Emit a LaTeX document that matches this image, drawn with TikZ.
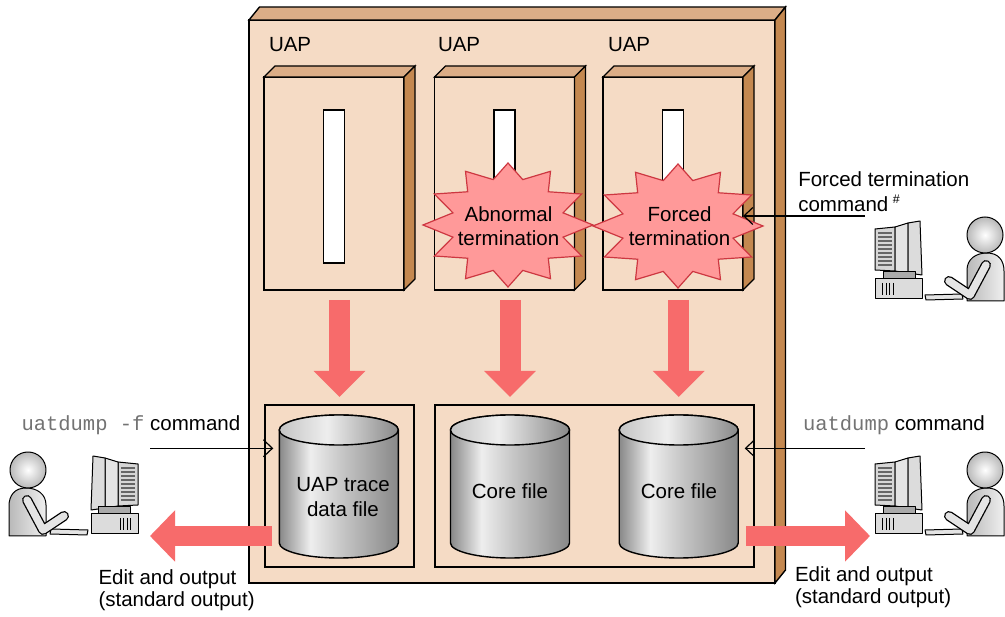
\documentclass[tikz,border=0pt]{standalone}
\usepackage{fontspec}
\setmainfont{Liberation Sans}
\setmonofont{Liberation Mono}
\usetikzlibrary{arrows.meta,calc}

\definecolor{boxfront}{RGB}{245,219,197}
\definecolor{boxtop}{RGB}{219,173,135}
\definecolor{boxside}{RGB}{196,136,80}
\definecolor{flow}{RGB}{247,107,107}
\definecolor{burstfill}{RGB}{255,153,153}
\definecolor{burstline}{RGB}{205,55,65}
\definecolor{drumA}{RGB}{136,136,136}
\definecolor{drumB}{RGB}{238,238,238}
\definecolor{drumC}{RGB}{196,196,196}
\definecolor{monogray}{RGB}{115,115,115}
\definecolor{pcA}{RGB}{214,214,214}
\definecolor{pcB}{RGB}{228,228,228}
\definecolor{pcC}{RGB}{220,220,220}
\definecolor{pcD}{RGB}{170,170,170}

\pgfdeclarehorizontalshading{drumbody}{100bp}{color(0bp)=(drumA); color(25bp)=(drumA); color(38bp)=(drumB); color(52bp)=(drumC); color(75bp)=(drumA); color(100bp)=(drumA)}
\pgfdeclarehorizontalshading{drumlid}{100bp}{color(0bp)=(drumC); color(25bp)=(drumC); color(45bp)=(drumB); color(75bp)=(drumA); color(100bp)=(drumA)}

% a 3-D slab: top and right faces added to a rectangular node
\newcommand\slabfaces[3]{%
  \filldraw[facetop] (#1.north west) -- ++(#2,-#3) -- ($(#1.north east)+(#2,-#3)$) -- (#1.north east) -- cycle;
  \filldraw[faceside] (#1.north east) -- ++(#2,-#3) -- ($(#1.south east)+(#2,-#3)$) -- (#1.south east) -- cycle;
}

% a shaded disk drum around a box node (node spans lid centre to base centre)
\newcommand\drumshape[1]{%
  \shadedraw[shading=drumbody, line width=1.4pt]
    (#1.north west) -- (#1.south west)
    arc[start angle=180, end angle=360, x radius=59.5pt, y radius=15pt]
    -- (#1.north east)
    arc[start angle=0, end angle=180, x radius=59.5pt, y radius=15pt] -- cycle;
  \shade[shading=drumlid] (#1.north) ellipse [x radius=59.5pt, y radius=15pt];
  \draw[line width=1.4pt] (#1.north) ellipse [x radius=59.5pt, y radius=15pt];
}

% a twelve-point burst around a coordinate
\newcommand\burstshape[1]{%
  \foreach \k in {0,...,23}{%
    \pgfmathsetmacro\ra{mod(\k,2)==0 ? 85 : 57}%
    \pgfmathsetmacro\rb{mod(\k,2)==0 ? 62 : 47}%
    \coordinate (#1-\k) at ($(#1)+({\k*15}:\ra pt and \rb pt)$);
  }
  \filldraw[burst] (#1-0) \foreach \k in {1,...,23}{ -- (#1-\k)} -- cycle;
}

\tikzset{
  pics/deskuser/.style={code={
    % monitor rear with vent slats
    \filldraw[pcline, fill=pcA] (5,14) -- (25,12) -- (25,56) -- (5,55) -- cycle;
    \foreach \s in {18,22,...,50} \draw[slat] (8,\s) -- (22,\s);
    % monitor side
    \filldraw[pcline, fill=pcB] (25,12) -- (38,8) -- (38,58) -- (25,56) -- cycle;
    % monitor front
    \filldraw[pcline, fill=pcC] (38,8) -- (50,6) -- (52,60) -- (38,58) -- cycle;
    % stand
    \filldraw[pcline, fill=pcD] (13,57) rectangle (45,64);
    % system unit
    \filldraw[pcline, fill=pcC] (5,64) rectangle (52,84);
    \foreach \v in {12.5,16,19.5,23} \draw[pcline] (\v,68) -- (\v,80);
    % keyboard
    \filldraw[pcline, fill=pcB] (55,80) -- (92,79) -- (93,84) -- (56,85) -- cycle;
    % user: body, arm and head
    \shadedraw[pcline, left color=gray!55, right color=gray!12]
      (97,86) -- (97,55) .. controls (97,44) and (106,38) .. (117,38)
      .. controls (128,38) and (134,45) .. (134,56) -- (134,86) -- cycle;
    \draw[line width=10pt, line cap=round, line join=round, black] (116,50) -- (100,80) -- (79,66);
    \draw[line width=7.4pt, line cap=round, line join=round, pcB] (116,50) -- (100,80) -- (79,66);
    \shadedraw[pcline, inner color=white, outer color=gray!55] (115,20) circle[radius=18];
  }},
}

\begin{document}
\begin{tikzpicture}[x=1pt, y=-1pt,
  facetop/.style={fill=boxtop, draw=black, line width=1.4pt},
  faceside/.style={fill=boxside, draw=black, line width=1.4pt},
  hostbox/.style={draw, fill=boxfront, line width=1.6pt, inner sep=0pt, outer sep=0pt, anchor=north west},
  uapbox/.style={draw, fill=boxfront, line width=1.4pt, inner sep=0pt, outer sep=0pt, anchor=north west, minimum width=140pt, minimum height=213pt},
  slotbox/.style={draw, fill=white, line width=1.2pt, inner sep=0pt, outer sep=0pt, anchor=north, minimum width=21pt, minimum height=153pt},
  framebox/.style={draw, line width=1.5pt, inner sep=0pt, outer sep=0pt, anchor=north west, minimum height=162pt},
  drumbox/.style={inner sep=0pt, outer sep=0pt, minimum width=119pt, minimum height=113pt},
  burst/.style={fill=burstfill, draw=burstline, line width=1.2pt, line join=miter},
  txt/.style={font=\fontsize{20.5}{24.5}\selectfont, inner sep=0pt, outer sep=0pt},
  bigflow/.style={flow, line width=21pt, -{Triangle[width=50pt,length=26pt]}},
  sideflow/.style={flow, line width=20pt, -{Triangle[width=50pt,length=25pt]}},
  cmdarrow/.style={line width=1.2pt, -{Straight Barb[length=9pt,width=17pt,line width=1.2pt]}},
  pcline/.style={draw=black, line width=1pt, line join=round},
  slat/.style={draw=black!60, line width=1.6pt},
]
\fill[white] (0,0) rectangle (1005,617);
\useasboundingbox (0,0) rectangle (1005,617);

% host machine
\node[hostbox, minimum width=526pt, minimum height=563pt] (host) at (249,20) {};
\slabfaces{host}{10.5}{13}

% application boxes
\node[uapbox] (uap1) at (264,77) {};
\node[uapbox] (uap2) at (434.5,77) {};
\node[uapbox] (uap3) at (603,77) {};
\slabfaces{uap1}{11}{11}
\slabfaces{uap2}{11}{11}
\slabfaces{uap3}{11}{11}
\node[slotbox] (slot1) at ($(uap1.north)+(0,33)$) {};
\node[slotbox] (slot2) at ($(uap2.north)+(0,33)$) {};
\node[slotbox] (slot3) at ($(uap3.north)+(0,33)$) {};

\node[txt, anchor=base west] (uapname1) at (269,51.5) {UAP};
\node[txt, anchor=base west] (uapname2) at (438,51.5) {UAP};
\node[txt, anchor=base west] (uapname3) at (608,51.5) {UAP};

% termination bursts
\coordinate (abend) at (508,225);
\coordinate (kill) at (678,226);
\burstshape{abend}
\burstshape{kill}
\node[txt, align=center] (abendtxt) at (508.5,226) {Abnormal\\termination};
\node[txt, align=center] (killtxt) at (679.5,226) {Forced\\termination};

% output files
\node[framebox, minimum width=149pt] (fileA) at (265,405) {};
\node[framebox, minimum width=319pt] (fileB) at (435,405) {};

\node[drumbox] (cyl1) at (338.8,486.5) {};
\node[drumbox] (cyl2) at (510,486.5) {};
\node[drumbox] (cyl3) at (678.7,486.5) {};
\drumshape{cyl1}
\drumshape{cyl2}
\drumshape{cyl3}
\node[txt, align=center] (cyl1txt) at (343,497) {UAP trace\\data file};
\node[txt, align=center] (cyl2txt) at (510,491.5) {Core file};
\node[txt, align=center] (cyl3txt) at (679,491.5) {Core file};

% output flows
\draw[bigflow] ($(uap1.south -| fileA.north)+(0,10)$) -- ($(fileA.north)+(0,-8)$);
\draw[bigflow] ($(uap2.south -| cyl2.north)+(0,10)$) -- ($(fileB.north -| cyl2.north)+(0,-8)$);
\draw[bigflow] ($(uap3.south -| cyl3.north)+(0,10)$) -- ($(fileB.north -| cyl3.north)+(0,-8)$);

\coordinate (outL) at (150,536);
\coordinate (outR) at (870,536);
\draw[sideflow] ($(fileA.south west)+(7,-31)$) -- (outL);
\draw[sideflow] ($(fileB.south east)+(-8,-31)$) -- (outR);

% operators
\pic at (870,215) {deskuser};
\pic at (870,450) {deskuser};
\pic[xscale=-1] at (143,450) {deskuser};

% commands
\node[txt, anchor=base west] (killcmd1) at (798.3,186.7) {Forced termination};
\node[txt, anchor=base west] (killcmd2) at (798.3,211.7) {command\hspace{4.5pt}\raisebox{8.5pt}{\fontsize{12.5}{12.5}\selectfont\#}};
\node[txt, anchor=base west] (dumpL) at (21.5,430.5) {{\ttfamily\color{monogray}uatdump -f} command};
\node[txt, anchor=base west] (dumpR) at (803,430.5) {{\ttfamily\color{monogray}uatdump} command};
\node[txt, anchor=base west] (editL1) at (98.5,584.5) {Edit and output};
\node[txt, anchor=base west] (editL2) at (98.5,607) {(standard output)};
\node[txt, anchor=base west] (editR1) at (795,582) {Edit and output};
\node[txt, anchor=base west] (editR2) at (795,604) {(standard output)};

\coordinate (killfrom) at (865,216);
\coordinate (dumpLfrom) at (150,448.3);
\coordinate (dumpRfrom) at (865,448.3);
\draw[cmdarrow] (killfrom) -- (killfrom -| uap3.east);
\draw[cmdarrow] (dumpLfrom) -- ($(dumpLfrom -| cyl1.west)+(-6,0)$);
\draw[cmdarrow] (dumpRfrom) -- ($(dumpRfrom -| cyl3.east)+(6.5,0)$);
\end{tikzpicture}
\end{document}
